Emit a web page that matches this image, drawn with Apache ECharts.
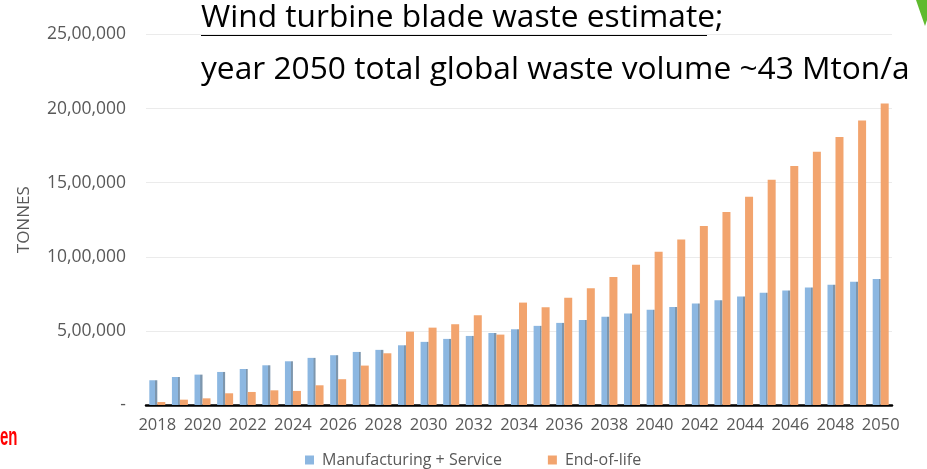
<!DOCTYPE html>
<html>
<head>
<meta charset="utf-8">
<script src="https://cdn.jsdelivr.net/npm/echarts@6/dist/echarts.min.js"></script>
<style>html,body{margin:0;padding:0;background:#fff}#c{width:927px;height:469px}</style>
</head>
<body>
<div id="c"></div>
<script>
const years = ['2018','2019','2020','2021','2022','2023','2024','2025','2026','2027','2028','2029','2030','2031','2032','2033','2034','2035','2036','2037','2038','2039','2040','2041','2042','2043','2044','2045','2046','2047','2048','2049','2050'];
const manufacturingService = [167000,189000,205000,223000,243000,268000,295000,318000,336000,358000,372000,403000,426000,446000,466000,486000,511000,534000,554000,574000,595000,617000,642000,662000,685000,707000,732000,757000,772000,793000,811000,831000,851000];
const endOfLife = [20000,36000,45000,79000,88000,99000,95000,133000,174000,266000,349000,495000,522000,545000,606000,475000,691000,660000,723000,788000,863000,946000,1034000,1117000,1207000,1302000,1405000,1520000,1613000,1709000,1809000,1919000,2034000];
const seriesNames = ['Manufacturing + Service','End-of-life'];
const titleLines = ['Wind turbine blade waste estimate;','year 2050 total global waste volume ~43 Mton/a'];

function indianFormat(v){
  if (v === 0) return '-';
  const s = String(Math.round(v));
  if (s.length <= 3) return s;
  const last3 = s.slice(-3);
  const rest = s.slice(0, -3).replace(/\B(?=(\d{2})+(?!\d))/g, ',');
  return rest + ',' + last3;
}

const FONT = '"Open Sans", "Noto Sans", sans-serif';
const BLUE = '#8cb7e1', BLUE_EDGE = '#7d96ad', ORANGE = '#f2a46e';
const blueFill = new echarts.graphic.LinearGradient(0,0,1,0,[
  {offset:0,color:BLUE},{offset:0.74,color:BLUE},{offset:0.75,color:BLUE_EDGE},{offset:1,color:BLUE_EDGE}
]);
const chart = echarts.init(document.getElementById('c'), null, {renderer:'canvas'});
chart.setOption({
  animation:false,
  backgroundColor:'#ffffff',
  grid:{left:146,right:35,top:34.5,bottom:64,containLabel:false},
  legend:{
    data:[{name:seriesNames[0],itemStyle:{color:BLUE}},{name:seriesNames[1],itemStyle:{color:ORANGE}}],
    top:452,
    left:305,
    padding:0,
    itemWidth:9,itemHeight:9,itemGap:46,
    icon:'rect',
    textStyle:{color:'#595959',fontSize:16,fontFamily:FONT,padding:[0,0,0,3]}
  },
  xAxis:{
    type:'category',
    data:years,
    axisLine:{show:true,lineStyle:{color:'#000',width:2.5}},
    axisTick:{show:false},
    axisLabel:{interval:1,color:'#595959',fontSize:16.5,fontFamily:FONT,margin:12}
  },
  yAxis:{
    type:'value',
    min:0,max:2500000,interval:500000,
    name:'TONNES',
    nameLocation:'middle',
    nameRotate:90,
    nameGap:113,
    nameTextStyle:{color:'#595959',fontSize:17,fontFamily:FONT},
    axisLine:{show:false},
    axisTick:{show:false},
    splitLine:{lineStyle:{color:'#ebebeb',width:1}},
    axisLabel:{color:'#595959',fontSize:17.5,fontFamily:FONT,margin:20,formatter:indianFormat}
  },
  series:[
    {name:seriesNames[0],type:'bar',data:manufacturingService,barWidth:8,barGap:'0%',
     itemStyle:{color:blueFill}},
    {name:seriesNames[1],type:'bar',data:endOfLife,barWidth:8,
     itemStyle:{color:ORANGE}}
  ],
  graphic:[
    {type:'text',left:201,top:2,style:{text:titleLines[0],fill:'#000',font:'31.7px '+FONT}},
    {type:'rect',shape:{x:201,y:34,width:506,height:2},style:{fill:'#000'}},
    {type:'text',left:201,top:54,style:{text:titleLines[1],fill:'#000',font:'31.7px '+FONT}},
    {type:'text',x:0,y:426,scaleX:0.6,style:{text:'en',fill:'#ff0000',font:'bold 25px "Liberation Sans", sans-serif'}},
    {type:'polygon',shape:{points:[[916,0],[927,0],[927,20],[925,26]]},style:{fill:'#5fba2f'}}
  ]
});
</script>
</body>
</html>
